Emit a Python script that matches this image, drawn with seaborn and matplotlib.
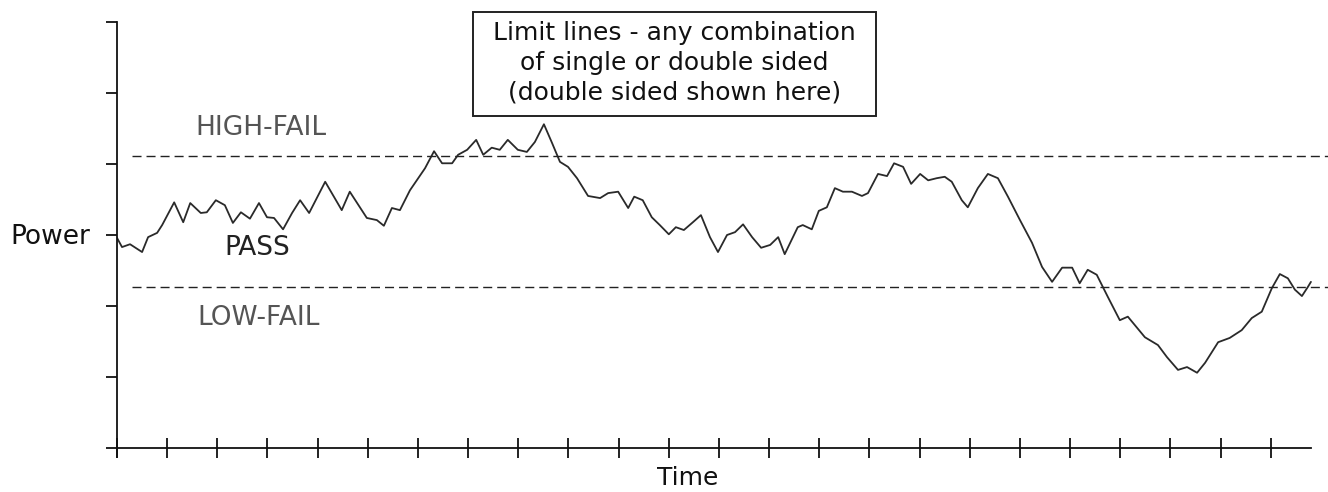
import matplotlib
matplotlib.use("Agg")
import matplotlib.pyplot as plt
from matplotlib.patches import Rectangle
import seaborn as sns
import pandas as pd

# trace (time in tick units, power in tick units)
time = [0.00, 0.10, 0.26, 0.50, 0.62, 0.80, 0.90, 1.14, 1.32, 1.46,
        1.67, 1.79, 1.97, 2.15, 2.31, 2.47, 2.65, 2.83, 2.99, 3.13,
        3.31, 3.49, 3.65, 3.83, 4.15, 4.48, 4.64, 4.98, 5.18, 5.32,
        5.48, 5.64, 5.84, 6.14, 6.32, 6.48, 6.68, 6.80, 6.98, 7.16,
        7.30, 7.47, 7.63, 7.79, 7.99, 8.17, 8.33, 8.51, 8.67, 8.83,
        8.99, 9.17, 9.39, 9.63, 9.79, 9.99, 10.19, 10.31, 10.48, 10.66,
        10.82, 11.00, 11.14, 11.30, 11.48, 11.64, 11.82, 11.98, 12.16, 12.32,
        12.48, 12.66, 12.84, 13.02, 13.18, 13.31, 13.57, 13.67, 13.85, 13.99,
        14.15, 14.31, 14.47, 14.65, 14.85, 14.97, 15.17, 15.35, 15.49, 15.67,
        15.83, 16.01, 16.17, 16.34, 16.50, 16.64, 16.84, 16.96, 17.16, 17.36,
        17.56, 17.76, 18.00, 18.24, 18.44, 18.64, 18.84, 19.04, 19.19, 19.35,
        19.53, 19.75, 19.99, 20.15, 20.29, 20.49, 20.75, 20.93, 21.15, 21.33,
        21.53, 21.69, 21.95, 22.18, 22.42, 22.62, 22.82, 23.02, 23.18, 23.34,
        23.48, 23.62, 23.74, 23.80]
power = [2.96, 2.83, 2.87, 2.76, 2.97, 3.03, 3.14, 3.46, 3.18, 3.45,
         3.31, 3.32, 3.49, 3.42, 3.17, 3.32, 3.23, 3.45, 3.25, 3.24,
         3.08, 3.31, 3.49, 3.31, 3.75, 3.35, 3.61, 3.24, 3.21, 3.13,
         3.38, 3.35, 3.63, 3.94, 4.18, 4.01, 4.01, 4.13, 4.20, 4.34,
         4.13, 4.23, 4.20, 4.34, 4.20, 4.17, 4.31, 4.56, 4.30, 4.03,
         3.96, 3.80, 3.55, 3.52, 3.59, 3.61, 3.38, 3.54, 3.49, 3.25,
         3.14, 3.01, 3.11, 3.07, 3.18, 3.28, 2.97, 2.76, 3.00, 3.04,
         3.15, 2.97, 2.82, 2.86, 2.97, 2.73, 3.11, 3.14, 3.08, 3.34,
         3.39, 3.66, 3.61, 3.61, 3.55, 3.59, 3.86, 3.83, 4.01, 3.96,
         3.72, 3.86, 3.77, 3.80, 3.82, 3.75, 3.49, 3.39, 3.66, 3.86,
         3.80, 3.54, 3.21, 2.89, 2.55, 2.34, 2.54, 2.54, 2.32, 2.51,
         2.44, 2.13, 1.80, 1.85, 1.73, 1.56, 1.45, 1.28, 1.10, 1.14,
         1.06, 1.20, 1.49, 1.55, 1.66, 1.83, 1.92, 2.25, 2.45, 2.39,
         2.23, 2.14, 2.27, 2.34]

high_limit = 4.11
low_limit = 2.27
x_ticks = list(range(0, 24))
y_ticks = list(range(0, 7))

df = pd.DataFrame({"Time": time, "Power": power})

sns.set_theme(style="white")
plt.rcParams["font.family"] = ["DejaVu Sans"]

fig = plt.figure(figsize=(13.28, 4.92), dpi=100)
ax = fig.add_axes([117 / 1328, 44 / 492, 1211 / 1328, 426 / 492])

sns.lineplot(data=df, x="Time", y="Power", ax=ax, color="#2a2a2a",
             linewidth=1.3, estimator=None, sort=False)

# limit lines
for lim in (high_limit, low_limit):
    ax.plot([0.3, 24.2], [lim, lim], color="#222222", linewidth=1.0,
            linestyle=(0, (6.5, 3.6)))

ax.set_xlim(0, 24.14)
ax.set_ylim(0, 6)
ax.set_xticks(x_ticks)
ax.set_yticks(y_ticks)
ax.set_xticklabels([])
ax.set_yticklabels([])
ax.set_xlabel("")
ax.set_ylabel("")
ax.tick_params(axis="x", direction="inout", length=14, width=1.3,
               color="#111111", bottom=True)
ax.tick_params(axis="y", direction="out", length=8, width=1.3,
               color="#111111", left=True)

for side in ("top", "right"):
    ax.spines[side].set_visible(False)
for side in ("left", "bottom"):
    ax.spines[side].set_color("#111111")
    ax.spines[side].set_linewidth(1.3)
ax.spines["bottom"].set_bounds(0, 23.8)
ax.spines["left"].set_bounds(-0.13, 6)
ax.spines["left"].set_clip_on(False)

ax.text(-0.54, 2.97, "Power", ha="right", va="center", fontsize=19,
        color="#111111", clip_on=False)
ax.text(11.38, -0.59, "Time", ha="center", va="bottom", fontsize=18,
        color="#111111", clip_on=False)
ax.text(1.56, 4.51, "HIGH-FAIL", ha="left", va="center", fontsize=19,
        color="#555555")
ax.text(2.15, 2.82, "PASS", ha="left", va="center", fontsize=19,
        color="#222222")
ax.text(1.61, 1.83, "LOW-FAIL", ha="left", va="center", fontsize=19,
        color="#555555")

# annotation box
box = Rectangle((473 / 1328, 376 / 492), 403 / 1328, 104 / 492,
                transform=fig.transFigure, facecolor="white",
                edgecolor="#222222", linewidth=1.4, zorder=5, clip_on=False)
ax.add_patch(box)
ax.text(11.11, 5.42,
        "Limit lines - any combination\nof single or double sided\n(double sided shown here)",
        ha="center", va="center", fontsize=18, color="#111111",
        linespacing=1.3, clip_on=False, zorder=6)

fig.savefig("out.png", dpi=100)
